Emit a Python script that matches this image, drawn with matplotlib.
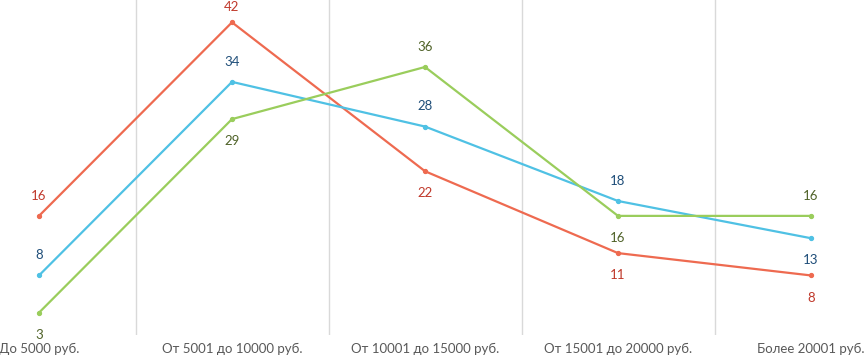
import matplotlib
matplotlib.use("Agg")
import matplotlib.pyplot as plt

categories = ["До 5000 руб.", "От 5001 до 10000 руб.", "От 10001 до 15000 руб.",
              "От 15001 до 20000 руб.", "Более 20001 руб."]
red_values = [16, 42, 22, 11, 8]
blue_values = [8, 34, 28, 18, 13]
green_values = [3, 29, 36, 16, 16]

red_pos = ["above", "above", "below", "below", "below"]
blue_pos = ["above", "above", "above", "above", "below"]
green_pos = ["below", "below", "above", "below", "above"]

plt.rcParams['font.family'] = ['Lato', 'DejaVu Sans']

fig = plt.figure(figsize=(8.64, 3.61), dpi=100)
left_px, right_px = -57.5, 907.5
ax = fig.add_axes([left_px / 864, 1 - 335 / 361, (right_px - left_px) / 864, 335 / 361])

ymax = 45
x = list(range(len(categories)))
series = [
    (red_values, red_pos, "#EE6A50", "#C0392B"),
    (blue_values, blue_pos, "#4FC1E4", "#1F4E79"),
    (green_values, green_pos, "#9ACD5C", "#4F6228"),
]
for vals, pos, lc, tc in series:
    ax.plot(x, vals, color=lc, lw=1.6, marker='o', ms=2.8, zorder=3)
    for xi, v, p in zip(x, vals, pos):
        if p == "above":
            # keep label inside the chart area (as in the reference)
            off = 14.5 if v < ymax - 5 else 11
        else:
            off = -16
        ax.annotate(str(v), (xi, v), xytext=(0, off), textcoords='offset points',
                    ha='center', va='center', fontsize=9.5, color=tc)

ax.set_xlim(-0.5, 4.5)
ax.set_ylim(0, ymax)
for b in [0.5, 1.5, 2.5, 3.5]:
    ax.axvline(b, color='#D9D9D9', lw=1.0, zorder=1)
for s in ax.spines.values():
    s.set_visible(False)
ax.set_yticks([])
ax.set_xticks(x)
ax.set_xticklabels(categories, fontsize=9.5, color='#595959')
ax.tick_params(axis='x', length=0, pad=6)

fig.savefig("out.png", dpi=100)
